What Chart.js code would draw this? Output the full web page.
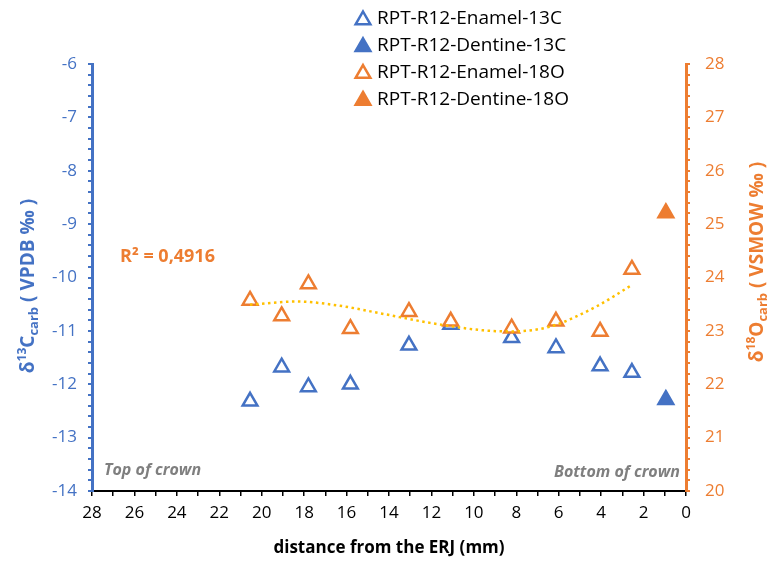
<!DOCTYPE html>
<html>
<head>
<meta charset="utf-8">
<script src="https://cdn.jsdelivr.net/npm/chart.js@4.4.1/dist/chart.umd.min.js"></script>
<style>
  html, body { margin: 0; padding: 0; background: #fff; }
  #chart { display: block; }
</style>
</head>
<body>
<canvas id="chart" width="769" height="564"></canvas>
<script>
// ---- data ----
const distEnamel  = [20.55, 19.06, 17.80, 15.82, 13.06, 11.09, 8.22, 6.13, 4.05, 2.55];
const c13Enamel   = [-12.32, -11.68, -12.05, -12.00, -11.27, -10.88, -11.13, -11.32, -11.66, -11.78];
const o18Enamel   = [23.57, 23.28, 23.88, 23.04, 23.36, 23.18, 23.05, 23.18, 22.99, 24.15];
const distDentine = [0.95];
const c13Dentine  = [-12.29];
const o18Dentine  = [25.21];

// polynomial trendline on enamel 18O
const trendDist = [20.55, 18.35, 16.31, 14.42, 12.06, 9.55, 8.21, 6.41, 4.21, 2.55];
const trendO18  = [23.49, 23.55, 23.47, 23.33, 23.15, 23.01, 22.99, 23.08, 23.46, 23.86];

const legendLabels = ['RPT-R12-Enamel-13C', 'RPT-R12-Dentine-13C', 'RPT-R12-Enamel-18O', 'RPT-R12-Dentine-18O'];
const rSquared = 'R² = 0,4916';

const BLUE = '#4472C4';
const ORANGE = '#ED7D31';
const GOLD = '#FFC000';
const GREY = '#7F7F7F';
const FONT = '"Open Sans", "Liberation Sans", sans-serif';

const pts = (xs, ys) => xs.map((x, i) => ({ x: x, y: ys[i] }));

function marker(color, filled) {
  return {
    pointStyle: 'triangle',
    pointRadius: 8.5,
    pointHoverRadius: 8.5,
    pointBorderWidth: 2.5,
    pointBorderColor: color,
    pointBackgroundColor: filled ? color : '#FFFFFF',
    borderColor: color,
    backgroundColor: filled ? color : '#FFFFFF',
    showLine: false
  };
}

// draw a run of text pieces with sup/subscripts, centred on (cx, cy), optionally rotated
function drawRich(ctx, parts, cx, cy, angle, color) {
  ctx.save();
  ctx.translate(cx, cy);
  ctx.rotate(angle);
  ctx.fillStyle = color;
  ctx.textBaseline = 'middle';
  ctx.textAlign = 'left';
  let total = 0;
  parts.forEach(p => { ctx.font = p.font; p.w = ctx.measureText(p.t).width; total += p.w; });
  let x = -total / 2;
  parts.forEach(p => {
    ctx.font = p.font;
    ctx.fillText(p.t, x, p.dy || 0);
    x += p.w;
  });
  ctx.restore();
}

function triangle(ctx, x, y, r, color, filled) {
  ctx.save();
  ctx.beginPath();
  ctx.moveTo(x, y - r);
  ctx.lineTo(x + r * Math.cos(Math.PI / 6), y + r * Math.sin(Math.PI / 6));
  ctx.lineTo(x - r * Math.cos(Math.PI / 6), y + r * Math.sin(Math.PI / 6));
  ctx.closePath();
  ctx.fillStyle = filled ? color : '#FFFFFF';
  ctx.fill();
  ctx.lineWidth = 2.5;
  ctx.strokeStyle = color;
  ctx.stroke();
  ctx.restore();
}

const extras = {
  id: 'extras',
  afterDraw(chart) {
    const ctx = chart.ctx;
    const area = chart.chartArea;

    // legend
    const legendColors = [BLUE, BLUE, ORANGE, ORANGE];
    const legendFilled = [false, true, false, true];
    ctx.save();
    ctx.font = '19px ' + FONT;
    ctx.fillStyle = '#000';
    ctx.textBaseline = 'middle';
    legendLabels.forEach((lbl, i) => {
      const y = 19 + i * 26.8;
      triangle(ctx, 363, y + 1, 8.5, legendColors[i], legendFilled[i]);
      ctx.fillText(lbl, 377, y);
    });
    ctx.restore();

    // axis titles
    const bold = s => 'bold ' + s + 'px ' + FONT;
    drawRich(ctx, [
      { t: 'δ', font: bold(19) },
      { t: '13', font: bold(12), dy: -6 },
      { t: 'C', font: bold(19) },
      { t: 'carb', font: bold(13), dy: 5 },
      { t: ' ( VPDB ‰ )', font: bold(19) }
    ], 29, 286, -Math.PI / 2, BLUE);

    drawRich(ctx, [
      { t: 'δ', font: bold(19) },
      { t: '18', font: bold(12), dy: -6 },
      { t: 'O', font: bold(19) },
      { t: 'carb', font: bold(13), dy: 5 },
      { t: ' ( VSMOW ‰ )', font: bold(19) }
    ], 758, 262, -Math.PI / 2, ORANGE);

    drawRich(ctx, [{ t: 'distance from the ERJ (mm)', font: bold(17) }],
      (area.left + area.right) / 2, 548, 0, '#000');

    // R² label
    ctx.save();
    ctx.font = bold(18);
    ctx.fillStyle = ORANGE;
    ctx.textBaseline = 'middle';
    ctx.fillText(rSquared, 120, 257);

    // crown labels
    ctx.font = 'italic bold 16px ' + FONT;
    ctx.fillStyle = GREY;
    ctx.fillText('Top of crown', area.left + 12, 470);
    ctx.textAlign = 'right';
    ctx.fillText('Bottom of crown', area.right - 6, 472);
    ctx.restore();
  }
};

const isWhole = v => Math.abs(v - Math.round(v)) < 1e-6;

new Chart(document.getElementById('chart'), {
  type: 'scatter',
  data: {
    datasets: [
      {
        label: 'trend',
        type: 'line',
        data: pts(trendDist, trendO18),
        yAxisID: 'y2',
        borderColor: GOLD,
        borderWidth: 2.5,
        borderDash: [2.5, 3.5],
        pointRadius: 0,
        pointHoverRadius: 0,
        fill: false,
        cubicInterpolationMode: 'monotone'
      },
      Object.assign({ label: legendLabels[3], data: pts(distDentine, o18Dentine), yAxisID: 'y2' }, marker(ORANGE, true)),
      Object.assign({ label: legendLabels[2], data: pts(distEnamel, o18Enamel), yAxisID: 'y2' }, marker(ORANGE, false)),
      Object.assign({ label: legendLabels[1], data: pts(distDentine, c13Dentine), yAxisID: 'y' }, marker(BLUE, true)),
      Object.assign({ label: legendLabels[0], data: pts(distEnamel, c13Enamel), yAxisID: 'y' }, marker(BLUE, false))
    ]
  },
  options: {
    responsive: false,
    animation: false,
    events: [],
    layout: { padding: { top: 64, left: 0, right: 0, bottom: 0 } },
    plugins: {
      legend: { display: false },
      tooltip: { enabled: false }
    },
    scales: {
      x: {
        type: 'linear',
        position: 'bottom',
        reverse: true,
        min: 0,
        max: 28,
        afterFit: s => { s.height = 73; },
        ticks: {
          stepSize: 1,
          autoSkip: false,
          maxRotation: 0,
          padding: 7,
          color: '#000',
          font: { family: FONT, size: 17 },
          callback: v => (Math.round(v) % 2 === 0 ? String(Math.round(v)) : '')
        },
        grid: { drawOnChartArea: false, tickLength: 5, color: '#000', lineWidth: 1.5 },
        border: { color: '#000', width: 2 }
      },
      y: {
        type: 'linear',
        position: 'left',
        min: -14,
        max: -6,
        afterFit: s => { s.width = 92; },
        ticks: {
          stepSize: 0.2,
          autoSkip: false,
          padding: 11,
          color: BLUE,
          font: { family: FONT, size: 17 },
          callback: v => (isWhole(v) ? String(Math.round(v)) : '')
        },
        grid: { drawOnChartArea: false, tickLength: 4, color: BLUE, lineWidth: 2 },
        border: { color: BLUE, width: 3 }
      },
      y2: {
        type: 'linear',
        position: 'right',
        min: 20,
        max: 28,
        afterFit: s => { s.width = 83; },
        ticks: {
          stepSize: 0.2,
          autoSkip: false,
          padding: 15,
          color: ORANGE,
          font: { family: FONT, size: 17 },
          callback: v => (isWhole(v) ? String(Math.round(v)) : '')
        },
        grid: { drawOnChartArea: false, tickLength: 4, color: ORANGE, lineWidth: 2 },
        border: { color: ORANGE, width: 3 }
      }
    }
  },
  plugins: [extras]
});
</script>
</body>
</html>
